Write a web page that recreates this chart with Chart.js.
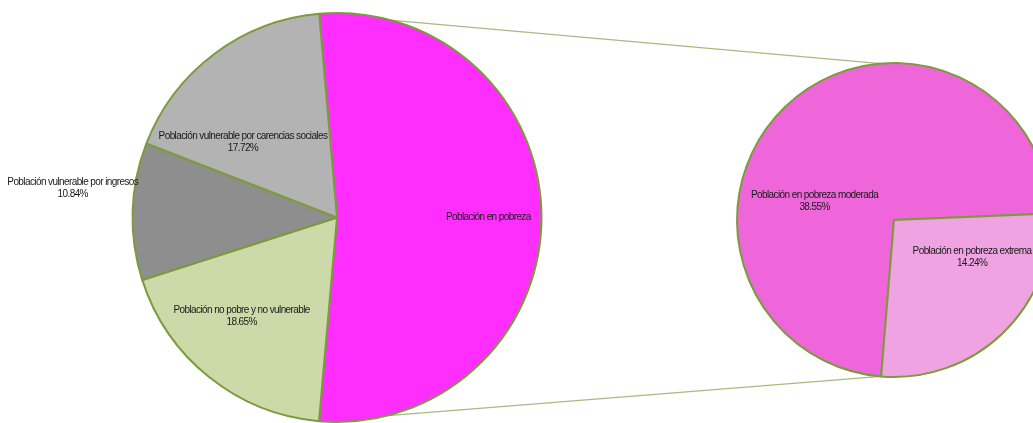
<!DOCTYPE html>
<html>
<head>
<meta charset="utf-8">
<script src="https://cdn.jsdelivr.net/npm/chart.js@4"></script>
<style>
  html, body { margin: 0; padding: 0; background: #fff; overflow: hidden; }
  #wrap { position: relative; width: 1033px; height: 423px; overflow: hidden; }
  #wrap canvas { position: absolute; left: 0; top: 0; }
  #rightChart { z-index: 0; }
  #leftChart { z-index: 1; }
</style>
</head>
<body>
<div id="wrap">
  <canvas id="rightChart" width="1060" height="423"></canvas>
  <canvas id="leftChart" width="1033" height="423"></canvas>
</div>
<script>
// Main pie
const leftLabels = [
    'Población en pobreza',
    'Población no pobre y no vulnerable',
    'Población vulnerable por ingresos',
    'Población vulnerable por carencias sociales'
];
const leftValues = [52.79, 18.65, 10.84, 17.72];
const leftShowPct = [false, true, true, true];

// Breakdown of "pobreza"
const rightLabels = ['Población en pobreza moderada', 'Población en pobreza extrema'];
const rightValues = [38.55, 14.24];
const rightShowPct = [true, true];

const borderGreen = '#7d9a3c';

// Draws the text labels inside / beside each slice
const sliceLabels = {
    id: 'sliceLabels',
    afterDatasetsDraw(chart, args, opts) {
        const ctx = chart.ctx;
        const meta = chart.getDatasetMeta(0);
        const data = chart.data.datasets[0].data;
        ctx.save();
        ctx.font = opts.font;
        ctx.fillStyle = opts.color;
        ctx.textAlign = 'center';
        ctx.textBaseline = 'middle';
        if ('letterSpacing' in ctx) ctx.letterSpacing = opts.letterSpacing;
        meta.data.forEach((arc, i) => {
            const p = arc.getProps(['x', 'y', 'startAngle', 'endAngle', 'outerRadius'], true);
            const place = opts.placement[i];
            const a = (p.startAngle + p.endAngle) / 2 + place.shift * Math.PI / 180;
            const cx = p.x + Math.cos(a) * p.outerRadius * place.frac;
            const cy = p.y + Math.sin(a) * p.outerRadius * place.frac;
            const lines = [chart.data.labels[i]];
            if (opts.showPct[i]) lines.push(data[i].toFixed(2) + '%');
            lines.forEach((t, k) => {
                ctx.fillText(t, cx, cy + (k - (lines.length - 1) / 2) * opts.lineHeight);
            });
        });
        ctx.restore();
    }
};

const labelStyle = {
    font: '10px "Liberation Sans", Arial, sans-serif',
    color: '#1a1a1a',
    letterSpacing: '-0.6px',
    lineHeight: 12
};

const leftChart = new Chart(document.getElementById('leftChart'), {
    type: 'pie',
    data: {
        labels: leftLabels,
        datasets: [{
            data: leftValues,
            backgroundColor: ['#ff2eff', '#ccdaa9', '#8e8e8e', '#b3b3b3'],
            borderColor: borderGreen,
            borderWidth: 2,
            hoverOffset: 0
        }]
    },
    plugins: [sliceLabels],
    options: {
        responsive: false,
        animation: false,
        events: [],
        devicePixelRatio: 1,
        rotation: -5,
        layout: { padding: { left: 131, right: 490, top: 12, bottom: 0 } },
        plugins: {
            legend: { display: false },
            tooltip: { enabled: false },
            sliceLabels: Object.assign({}, labelStyle, {
                showPct: leftShowPct,
                placement: [
                    { shift: 0, frac: 0.74 },
                    { shift: 5.5, frac: 0.67 },
                    { shift: 4.6, frac: 1.30 },
                    { shift: -14.3, frac: 0.59 }
                ]
            })
        }
    }
});

// Lines joining the "pobreza" slice to the second pie
const connectors = {
    id: 'connectors',
    beforeDatasetsDraw(chart) {
        const L = leftChart.getDatasetMeta(0).data[0];
        const R = chart.getDatasetMeta(0).data[0];
        const ctx = chart.ctx;
        const rs = R.startAngle;
        ctx.save();
        ctx.strokeStyle = '#a9b981';
        ctx.lineWidth = 1.2;
        ctx.beginPath();
        ctx.moveTo(L.x + Math.cos(L.startAngle) * L.outerRadius, L.y + Math.sin(L.startAngle) * L.outerRadius);
        ctx.lineTo(R.x + Math.cos(-rs) * R.outerRadius, R.y + Math.sin(-rs) * R.outerRadius);
        ctx.moveTo(L.x + Math.cos(L.endAngle) * L.outerRadius, L.y + Math.sin(L.endAngle) * L.outerRadius);
        ctx.lineTo(R.x + Math.cos(rs) * R.outerRadius, R.y + Math.sin(rs) * R.outerRadius);
        ctx.stroke();
        ctx.restore();
    }
};

new Chart(document.getElementById('rightChart'), {
    type: 'pie',
    data: {
        labels: rightLabels,
        datasets: [{
            data: rightValues,
            backgroundColor: ['#ee66da', '#f0a3e3'],
            borderColor: borderGreen,
            borderWidth: 2,
            hoverOffset: 0
        }]
    },
    plugins: [connectors, sliceLabels],
    options: {
        responsive: false,
        animation: false,
        events: [],
        devicePixelRatio: 1,
        rotation: 184.7,
        layout: { padding: { left: 736, right: 8, top: 62, bottom: 45 } },
        plugins: {
            legend: { display: false },
            tooltip: { enabled: false },
            sliceLabels: Object.assign({}, labelStyle, {
                showPct: rightShowPct,
                placement: [
                    { shift: -32.8, frac: 0.52 },
                    { shift: -20.8, frac: 0.55 }
                ]
            })
        }
    }
});
</script>
</body>
</html>
